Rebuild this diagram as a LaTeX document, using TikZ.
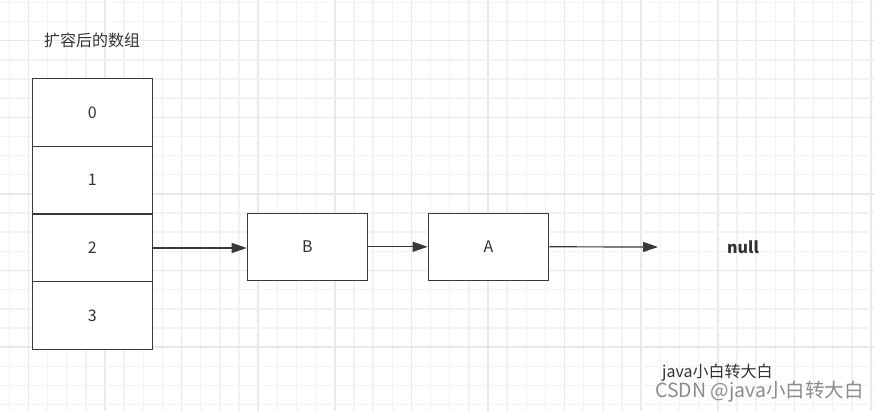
\documentclass[tikz,border=0pt]{standalone}
\usepackage{fontspec}
\newfontfamily\cjk{Noto Sans CJK SC}
\usetikzlibrary{arrows.meta}
\definecolor{ink}{RGB}{51,51,51}
\definecolor{edge}{RGB}{54,57,61}
\definecolor{gridminor}{RGB}{242,242,242}
\definecolor{gridmajor}{RGB}{232,232,232}
\definecolor{wm}{RGB}{140,140,140}
\tikzset{
  cell/.style={draw=edge, line width=1.2pt, fill=white, minimum width=120pt, minimum height=67.5pt, inner sep=0pt, font=\cjk\fontsize{16}{18}\selectfont, text=ink},
  listbox/.style={draw=edge, line width=1.2pt, fill=white, minimum width=120.4pt, minimum height=67pt, inner sep=0pt, font=\cjk\fontsize{16}{18}\selectfont, text=ink},
  lbl/.style={inner sep=0pt, font=\cjk\fontsize{16}{18}\selectfont, text=ink},
  arr/.style={draw=edge, line width=1.2pt, -{Triangle[length=15pt,width=10pt]}},
}
\begin{document}
\begin{tikzpicture}[x=1pt,y=-1pt]
\useasboundingbox (0,0) rectangle (874,411);
\fill[white] (0,0) rectangle (874,411);
% grid
\foreach \k in {0,...,45}{
  \pgfmathtruncatemacro{\m}{mod(\k,4)}
  \pgfmathsetmacro{\xx}{9.2+19.15*\k}
  \ifnum\m=1
    \draw[gridmajor, line width=1.5pt] (\xx,0) -- (\xx,411);
  \else
    \draw[gridminor, line width=1.4pt] (\xx,0) -- (\xx,411);
  \fi
}
\foreach \k in {0,...,21}{
  \pgfmathtruncatemacro{\m}{mod(\k,4)}
  \pgfmathsetmacro{\yy}{2.4+19.15*\k}
  \ifnum\m=2
    \draw[gridmajor, line width=1.5pt] (0,\yy) -- (874,\yy);
  \else
    \draw[gridminor, line width=1.4pt] (0,\yy) -- (874,\yy);
  \fi
}
% title
\node[lbl] (title) at (92,40) {扩容后的数组};
% array
\node[cell] (a0) at (92.3,112.5) {0};
\node[cell] (a1) at (92.3,180) {1};
\node[cell] (a3) at (92.3,315.5) {3};
\node[cell] (a2) at (92.3,248) {2};
% list
\node[listbox] (B) at (307.5,246.8) {B};
\node[listbox] (A) at (488.5,246.8) {A};
\coordinate (end) at (658,247);
\node[lbl, font=\cjk\bfseries\fontsize{16}{18}\selectfont] (null) at (743,247) {null};
% arrows
\draw[arr] (a2.east) -- (a2.east -| B.west);
\draw[arr] (B.east) -- (A.west);
\draw[arr] (A.east) -- (end);
% watermark
\node[lbl, anchor=west] (wm1) at (662,373) {java小白转大白};
\node[inner sep=0pt, anchor=west, font=\cjk\fontsize{19.5}{22}\selectfont, text=wm] (wm2) at (655,392) {CSDN @java小白转大白};
\end{tikzpicture}
\end{document}
